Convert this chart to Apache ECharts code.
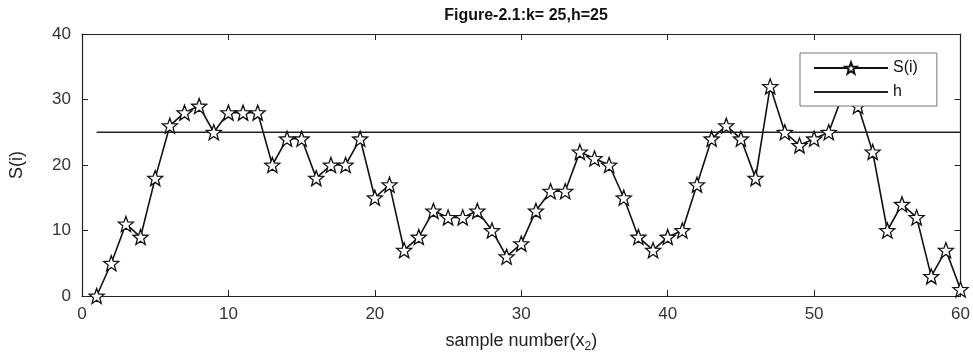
<!DOCTYPE html>
<html>
<head>
<meta charset="utf-8">
<script src="https://cdn.jsdelivr.net/npm/echarts@6/dist/echarts.min.js"></script>
<style>
  html, body { margin: 0; padding: 0; background: #fff; }
  #chart { width: 973px; height: 358px; }
</style>
</head>
<body>
<div id="chart"></div>
<script>
const sampleIdx = [];
for (let i = 1; i <= 60; i++) sampleIdx.push(i);
const sValues = [0, 5, 11, 9, 18, 26, 28, 29, 25, 28,
                 28, 28, 20, 24, 24, 18, 20, 20, 24, 15,
                 17, 7, 9, 13, 12, 12, 13, 10, 6, 8,
                 13, 16, 16, 22, 21, 20, 15, 9, 7, 9,
                 10, 17, 24, 26, 24, 18, 32, 25, 23, 24,
                 25, 31, 29, 22, 10, 14, 12, 3, 7, 1];
const hValue = 25;
const hRange = [1, 60];
const xTicks = [0, 10, 20, 30, 40, 50, 60];
const yTicks = [0, 10, 20, 30, 40];

// five-point star path for markers
function starPath() {
  const pts = [];
  for (let k = 0; k < 10; k++) {
    const r = k % 2 === 0 ? 10 : 4.2;
    const a = (-90 + k * 36) * Math.PI / 180;
    pts.push((r * Math.cos(a)).toFixed(2) + ',' + (r * Math.sin(a)).toFixed(2));
  }
  return 'path://M' + pts.join('L') + 'Z';
}
const star = starPath();

const font = 'Liberation Sans, Arial, sans-serif';
const chart = echarts.init(document.getElementById('chart'), null, { renderer: 'canvas' });
const frameAxis = {
  show: true,
  axisLine: { show: true, onZero: false, lineStyle: { color: '#222', width: 1.2 } },
  axisTick: { show: true, inside: true, length: 6, lineStyle: { color: '#222' } },
  axisLabel: { show: false }, splitLine: { show: false }
};

chart.setOption({
  animation: false,
  title: {
    text: 'Figure-2.1:k= 25,h=25', left: 521, textAlign: 'center', top: 3,
    textStyle: { fontFamily: font, fontSize: 16, fontWeight: 'bold', color: '#111' }
  },
  grid: { left: 82, right: 12, top: 34, bottom: 62 },
  legend: {
    orient: 'vertical', left: 800, top: 53,
    backgroundColor: '#fff', borderColor: '#777', borderWidth: 1,
    padding: [7, 19, 6, 13], itemGap: 8, itemWidth: 74, itemHeight: 14,
    textStyle: { fontFamily: font, fontSize: 16, color: '#111', padding: [0, 0, 0, 0] },
    data: ['S(i)', { name: 'h', itemStyle: { opacity: 0 } }]
  },
  xAxis: [{
    type: 'value', min: 0, max: 60, interval: 10, position: 'bottom',
    name: '{a|sample number(x}{s|2}{a|)}', nameLocation: 'middle', nameGap: 33,
    nameTextStyle: { rich: { a: { fontFamily: font, fontSize: 18, color: '#222' }, s: { fontFamily: font, fontSize: 12, color: '#222', verticalAlign: 'bottom', padding: [12, 0, 0, 0] } } },
    axisLine: { onZero: false, lineStyle: { color: '#222', width: 1.2 } },
    axisTick: { inside: true, length: 6, lineStyle: { color: '#222' } },
    axisLabel: { fontFamily: font, fontSize: 17, color: '#333', margin: 10, customValues: xTicks },
    splitLine: { show: false }
  }, Object.assign({ type: 'value', min: 0, max: 60, interval: 10, position: 'top' }, frameAxis)],
  yAxis: [{
    type: 'value', min: 0, max: 40, interval: 10,
    name: 'S(i)', nameLocation: 'middle', nameGap: 56, nameRotate: 90,
    nameTextStyle: { fontFamily: font, fontSize: 18, color: '#222' },
    axisLine: { show: true, onZero: false, lineStyle: { color: '#222', width: 1.2 } },
    axisTick: { show: true, inside: true, length: 6, lineStyle: { color: '#222' } },
    axisLabel: { fontFamily: font, fontSize: 17, color: '#333', margin: 11, customValues: yTicks },
    splitLine: { show: false }
  }, Object.assign({ type: 'value', min: 0, max: 40, interval: 10, position: 'right' }, frameAxis)],
  series: [{
    name: 'S(i)', type: 'line',
    data: sampleIdx.map((x, i) => [x, sValues[i]]),
    symbol: star, symbolSize: 15, showAllSymbol: true,
    lineStyle: { color: '#111', width: 1.6 },
    itemStyle: { color: '#fff', borderColor: '#111', borderWidth: 1.3 }
  }, {
    name: 'h', type: 'line',
    data: hRange.map(x => [x, hValue]),
    symbol: 'none',
    lineStyle: { color: '#222', width: 1.3 },
    itemStyle: { color: '#222' }
  }]
});
</script>
</body>
</html>
